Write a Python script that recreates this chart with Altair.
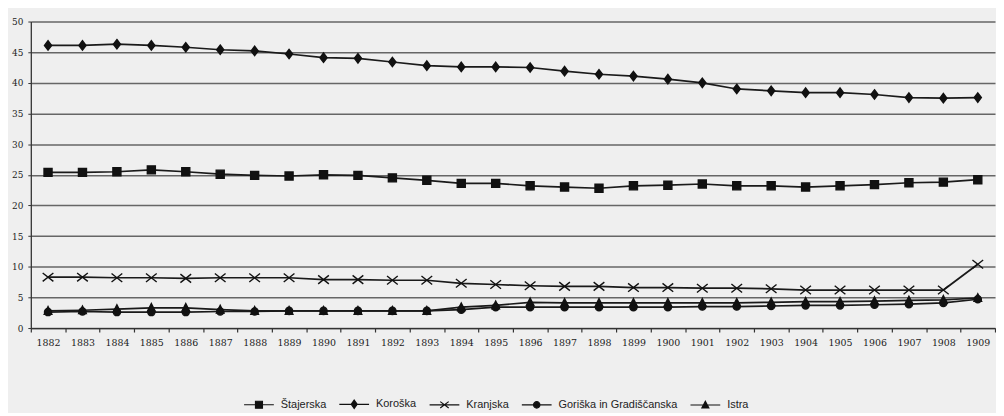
import altair as alt
import pandas as pd

years = ["1882", "1883", "1884", "1885", "1886", "1887", "1888", "1889", "1890", "1891",
         "1892", "1893", "1894", "1895", "1896", "1897", "1898", "1899", "1900", "1901",
         "1902", "1903", "1904", "1905", "1906", "1907", "1908", "1909"]

series_names = ["Štajerska", "Koroška", "Kranjska", "Goriška in Gradiščanska", "Istra"]

stajerska = [25.4, 25.4, 25.5, 25.8, 25.5, 25.1, 24.9, 24.8, 25.0, 24.9,
             24.5, 24.1, 23.6, 23.6, 23.2, 23.0, 22.8, 23.2, 23.3, 23.5,
             23.2, 23.2, 23.0, 23.2, 23.4, 23.7, 23.8, 24.2]
koroska = [46.1, 46.1, 46.3, 46.1, 45.8, 45.4, 45.2, 44.7, 44.1, 44.0,
           43.4, 42.8, 42.6, 42.6, 42.5, 41.9, 41.4, 41.1, 40.6, 40.0,
           39.0, 38.7, 38.4, 38.4, 38.1, 37.6, 37.5, 37.6]
kranjska = [8.3, 8.3, 8.2, 8.2, 8.1, 8.2, 8.2, 8.2, 7.9, 7.9,
            7.8, 7.8, 7.3, 7.1, 6.9, 6.8, 6.8, 6.6, 6.6, 6.5,
            6.5, 6.4, 6.2, 6.2, 6.2, 6.2, 6.2, 10.4]
goriska = [2.6, 2.7, 2.6, 2.6, 2.6, 2.7, 2.7, 2.8, 2.8, 2.8,
           2.8, 2.8, 3.0, 3.4, 3.4, 3.4, 3.4, 3.4, 3.4, 3.5,
           3.5, 3.6, 3.7, 3.7, 3.8, 3.9, 4.1, 4.7]
istra = [2.8, 2.9, 3.1, 3.3, 3.3, 3.0, 2.8, 2.8, 2.8, 2.8,
         2.8, 2.8, 3.4, 3.7, 4.2, 4.1, 4.1, 4.1, 4.1, 4.1,
         4.1, 4.2, 4.3, 4.3, 4.4, 4.5, 4.6, 4.9]

y_ticks = [0, 5, 10, 15, 20, 25, 30, 35, 40, 45, 50]

# marker shapes in the plot (unit box -1..1)
plot_shapes = [
    "M-0.9,-0.9H0.9V0.9H-0.9Z",
    "M0,-1.05L0.8,0L0,1.05L-0.8,0Z",
    "M-1.2,-0.95L1.2,0.95M-1.2,0.95L1.2,-0.95",
    "M-0.8,0A0.8,0.8,0,1,0,0.8,0A0.8,0.8,0,1,0,-0.8,0Z",
    "M0,-0.95L0.85,0.75L-0.85,0.75Z",
]
# legend symbols: line segment through marker
legend_shapes = [
    "M-6,0H6M-1.4,-1.4H1.4V1.4H-1.4Z",
    "M-6,0H6M0,-1.7L1.2,0L0,1.7L-1.2,0Z",
    "M-6,0H6M-1.7,-1.3L1.7,1.3M-1.7,1.3L1.7,-1.3",
    "M-6,0H6M-1.3,0A1.3,1.3,0,1,0,1.3,0A1.3,1.3,0,1,0,-1.3,0Z",
    "M-6,0H6M0,-1.5L1.4,1.2L-1.4,1.2Z",
]

values = [stajerska, koroska, kranjska, goriska, istra]
rows = []
for name, vals in zip(series_names, values):
    for yr, v in zip(years, vals):
        rows.append({"year": yr, "value": v, "series": name})
df = pd.DataFrame(rows)

x_enc = alt.X(
    "year:O",
    sort=years,
    scale=alt.Scale(type="band", paddingInner=0, paddingOuter=0),
    bandPosition=0.5,
    axis=alt.Axis(
        title=None, labelAngle=0, tickBand="extent", grid=False,
        domainColor="#333", domainWidth=1.3, tickColor="#333", tickSize=4,
        tickWidth=1.2, labelPadding=6, labelFont="DejaVu Serif",
        labelFontSize=9.5, labelColor="#222",
    ),
)
y_enc = alt.Y(
    "value:Q",
    scale=alt.Scale(domain=[0, 50], nice=False, zero=True),
    axis=alt.Axis(
        title=None, values=y_ticks, grid=True, gridColor="#666", gridWidth=1.4,
        domainColor="#333", domainWidth=1.3, tickColor="#333", tickSize=3,
        labelPadding=5, labelFont="DejaVu Serif", labelFontSize=9,
        labelColor="#222", minExtent=23, maxExtent=23,
    ),
)

base = alt.Chart(df)

lines = base.mark_line(color="#1a1a1a", strokeWidth=1.7).encode(
    x=x_enc, y=y_enc, detail="series:N"
)

points = base.mark_point(
    filled=True, fill="#111", stroke="#111", strokeWidth=1.4, size=81, opacity=1
).encode(
    x=x_enc,
    y=y_enc,
    shape=alt.Shape(
        "series:N",
        scale=alt.Scale(domain=series_names, range=plot_shapes),
        legend=None,
    ),
)

legend_layer = base.transform_filter("false").mark_point(
    filled=True, fill="#111", stroke="#111", strokeWidth=1.2, size=25, opacity=1
).encode(
    x=x_enc,
    y=y_enc,
    shape=alt.Shape(
        "series:N",
        scale=alt.Scale(domain=series_names, range=legend_shapes),
        legend=alt.Legend(
            title=None, orient="none", legendX=212, legendY=380,
            direction="horizontal", columns=5, columnPadding=10,
            symbolSize=25, symbolStrokeWidth=1.2,
            symbolOffset=12.5, labelOffset=16.5, labelFont="Liberation Sans",
            labelFontSize=11, labelColor="#222",
        ),
    ),
)

chart = (
    alt.layer(lines, points, legend_layer)
    .resolve_scale(shape="independent")
    .properties(
        width=972, height=309,
        padding={"top": 8, "left": 0, "right": 0, "bottom": 0},
        background="#efefef",
    )
    .configure_view(stroke=None)
)

chart.save("out.html", embed_options={"renderer": "svg", "actions": False})
